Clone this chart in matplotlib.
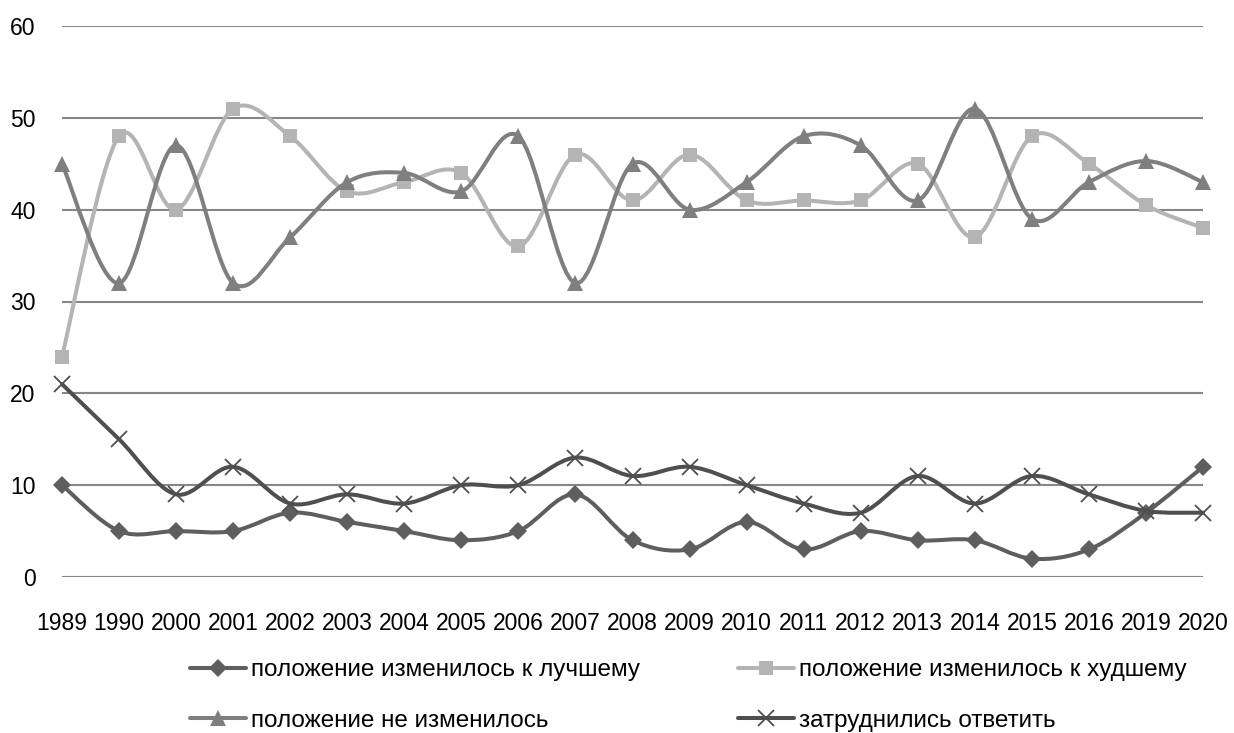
import numpy as np
import matplotlib
matplotlib.use('Agg')
import matplotlib.pyplot as plt
from matplotlib.path import Path
from matplotlib.patches import PathPatch

plt.rcParams['font.family'] = ['Liberation Sans', 'DejaVu Sans']

years = ['1989', '1990', '2000', '2001', '2002', '2003', '2004', '2005', '2006', '2007', '2008',
         '2009', '2010', '2011', '2012', '2013', '2014', '2015', '2016', '2019', '2020']

better = [10, 5, 5, 5, 7, 6, 5, 4, 5, 9, 4, 3, 6, 3, 5, 4, 4, 2, 3, 7, 12]
worse = [24, 48, 40, 51, 48, 42, 43, 44, 36, 46, 41, 46, 41, 41, 41, 45, 37, 48, 45, 40.5, 38]
same = [45, 32, 47, 32, 37, 43, 44, 42, 48, 32, 45, 40, 43, 48, 47, 41, 51, 39, 43, 45.3, 43]
hard = [21, 15, 9, 12, 8, 9, 8, 10, 10, 13, 11, 12, 10, 8, 7, 11, 8, 11, 9, 7.2, 7]

labels = ['положение изменилось к лучшему', 'положение изменилось к худшему',
          'положение не изменилось', 'затруднились ответить']


def smooth_path(x, y):
    # excel-like smoothed line: bezier segments with catmull-rom control points
    pts = np.column_stack([x, y]).astype(float)
    n = len(pts)
    verts = [pts[0]]
    codes = [Path.MOVETO]
    for i in range(n - 1):
        p0 = pts[max(i - 1, 0)]
        p1 = pts[i]
        p2 = pts[i + 1]
        p3 = pts[min(i + 2, n - 1)]
        c1 = p1 + (p2 - p0) / 6.0
        c2 = p2 - (p3 - p1) / 6.0
        verts += [c1, c2, p2]
        codes += [Path.CURVE4] * 3
    return Path(verts, codes)


fig = plt.figure(figsize=(12.34, 7.33), dpi=100)
W, H = 1234, 733
ax = fig.add_axes([62 / W, 1 - 577 / H, (1203 - 62) / W, (577 - 26) / H])

x = np.arange(len(years))
series = [
    (better, '#5e5e5e', 'D', 9),
    (worse, '#b4b4b4', 's', 10),
    (same, '#7f7f7f', '^', 11),
    (hard, '#4f4f4f', 'x', 11),
]

handles = []
for k, (vals, col, mk, ms) in enumerate(series):
    patch = PathPatch(smooth_path(x, vals), facecolor='none', edgecolor=col,
                      lw=2.9, zorder=3 + k, clip_on=False, capstyle='round', joinstyle='round')
    ax.add_patch(patch)
    mew = 1.3 if mk == 'x' else 0
    ax.plot(x, vals, linestyle='none', marker=mk, ms=ms, color=col, mew=mew,
            zorder=3 + k + 0.5, clip_on=False)
    h, = ax.plot([], [], color=col, lw=2.9, marker=mk, ms=ms, mew=mew, solid_capstyle='round')
    handles.append(h)

ax.set_xlim(0, len(years) - 1)
ax.set_ylim(0, 60)
ax.set_yticks(range(0, 61, 10))
ax.set_xticks(x)
ax.set_xticklabels(years)
ax.grid(axis='y', color='#878787', lw=1.5)
ax.set_axisbelow(True)
for s in ax.spines.values():
    s.set_visible(False)
ax.tick_params(axis='both', length=0, labelsize=16.5, colors='black')
ax.tick_params(axis='y', pad=19)
ax.tick_params(axis='x', pad=25)

leg_kw = dict(loc='upper left', frameon=False, fontsize=17.5, borderpad=0, borderaxespad=0,
              handlelength=2.3, handletextpad=0.22, labelspacing=1.18)
fig.legend([handles[0], handles[2]], [labels[0], labels[2]],
           bbox_to_anchor=(190 / W, 1 - 659 / H), **leg_kw)
fig.legend([handles[1], handles[3]], [labels[1], labels[3]],
           bbox_to_anchor=(738 / W, 1 - 659 / H), **leg_kw)

fig.savefig('out.png', dpi=100)
